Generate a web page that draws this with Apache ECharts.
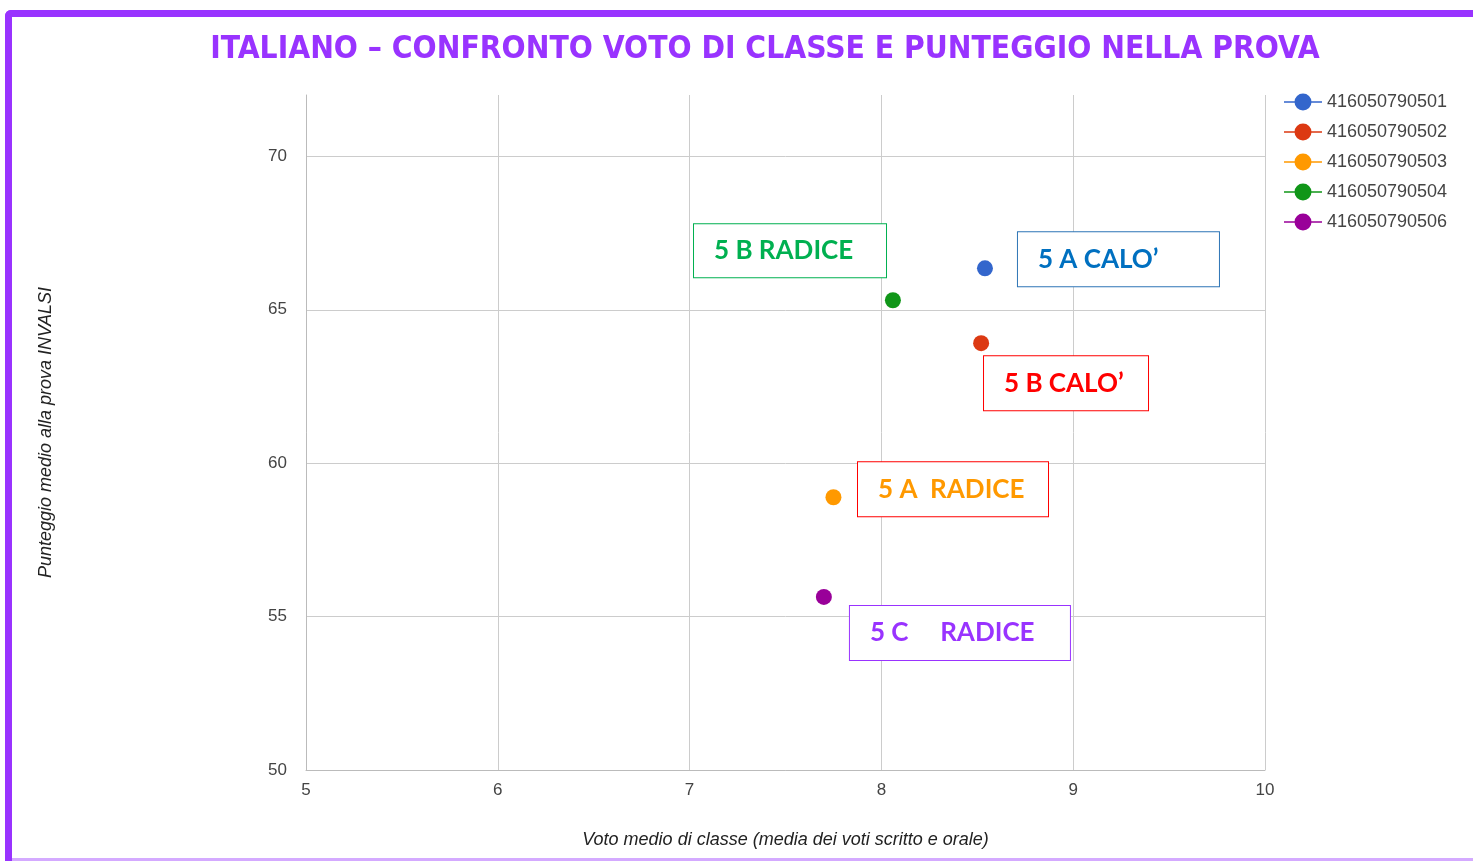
<!DOCTYPE html>
<html>
<head>
<meta charset="utf-8">
<script src="https://cdn.jsdelivr.net/npm/echarts@6/dist/echarts.min.js"></script>
<style>
html,body{margin:0;padding:0;background:#fff;}
#chart{width:1473px;height:861px;}
</style>
</head>
<body>
<div id="chart"></div>
<script>
// ---- data ----
const seriesNames = ['416050790501','416050790502','416050790503','416050790504','416050790506'];
const xValues = [8.54, 8.52, 7.75, 8.06, 7.70];   // Voto medio di classe
const yValues = [66.35, 63.91, 58.89, 65.31, 55.64]; // Punteggio medio INVALSI
const xTicks = [5, 6, 7, 8, 9, 10];
const yTicks = [50, 55, 60, 65, 70];
const annotationTexts = ['5 B RADICE', '5 A CALO’', '5 B CALO’', '5 A  RADICE', '5 C     RADICE'];
// anchor of each annotation box (left edge, vertical middle) in data units
const annotationX = [7.023, 8.712, 8.535, 7.878, 7.836];
const annotationY = [66.92, 66.645, 62.606, 59.153, 54.463];

// ---- styles ----
const seriesColors = ['#3366cc','#dc3912','#ff9900','#109618','#990099'];
const annStyle = [
  {color:'#00b050', border:'#00b050', w:192, h:53},
  {color:'#0070c0', border:'#2e75b6', w:201, h:54},
  {color:'#ff0000', border:'#ff0000', w:164, h:54},
  {color:'#ff9900', border:'#ff0000', w:190, h:54},
  {color:'#9933ff', border:'#9933ff', w:220, h:54}
];
const purple = '#9933ff';

const chart = echarts.init(document.getElementById('chart'), null, {renderer:'canvas'});

const series = seriesNames.map((n, i) => ({
  name: n,
  type: 'scatter',
  symbol: 'circle',
  symbolSize: 16,
  itemStyle: {color: seriesColors[i], opacity: 1},
  data: [[xValues[i], yValues[i]]],
  z: 3
}));

series.push({
  name: 'annotations',
  type: 'scatter',
  symbolSize: 0,
  silent: true,
  z: 5,
  itemStyle: {opacity: 1},
  data: annotationTexts.map((t, i) => ({
    value: [annotationX[i], annotationY[i]],
    label: {
      show: true,
      position: 'inside',
      formatter: t,
      color: annStyle[i].color,
      opacity: 1,
      fontFamily: 'Lato',
      fontWeight: 'bold',
      fontSize: 26,
      backgroundColor: '#fff',
      borderColor: annStyle[i].border,
      borderWidth: 1,
      width: annStyle[i].w - 20,
      height: annStyle[i].h - 4,
      lineHeight: annStyle[i].h - 4,
      padding: [4, 0, 0, 20],
      align: 'left',
      verticalAlign: 'middle'
    }
  }))
});

const iconPath = 'path://M0,7.75H38V9.25H0Z M10.5,8.5A8.5,8.5 0 1 1 27.5,8.5A8.5,8.5 0 1 1 10.5,8.5Z';

const option = {
  backgroundColor: '#fff',
  animation: false,
  title: {
    text: 'ITALIANO – CONFRONTO VOTO DI CLASSE E PUNTEGGIO NELLA PROVA',
    left: 760,
    textAlign: 'center',
    top: 29,
    textStyle: {
      color: purple,
      fontFamily: 'DejaVu Sans Condensed',
      fontWeight: 'bold',
      fontSize: 31.5
    }
  },
  legend: {
    orient: 'vertical',
    left: 1279,
    top: 88,
    itemWidth: 38,
    itemHeight: 17,
    itemGap: 12,
    data: seriesNames.map((n, i) => ({name: n, icon: iconPath})),
    textStyle: {color: '#444', fontFamily: 'Liberation Sans', fontSize: 18}
  },
  grid: {left: 306, right: 208, top: 95, bottom: 91, containLabel: false},
  xAxis: {
    type: 'value',
    min: xTicks[0],
    max: xTicks[xTicks.length - 1],
    interval: 1,
    name: 'Voto medio di classe (media dei voti scritto e orale)',
    nameLocation: 'middle',
    nameGap: 61,
    nameTextStyle: {fontStyle: 'italic', fontFamily: 'Liberation Sans', fontSize: 18, color: '#222'},
    axisLine: {show: true, lineStyle: {color: '#bbb'}},
    axisTick: {show: false},
    axisLabel: {color: '#444', fontFamily: 'Liberation Sans', fontSize: 17, margin: 12},
    splitLine: {show: true, lineStyle: {color: '#ccc'}}
  },
  yAxis: {
    type: 'value',
    min: yTicks[0],
    max: 72,
    interval: 5,
    name: 'Punteggio medio alla prova INVALSI',
    nameLocation: 'middle',
    nameGap: 251,
    nameTextStyle: {fontStyle: 'italic', fontFamily: 'Liberation Sans', fontSize: 18, color: '#222'},
    axisLine: {show: true, lineStyle: {color: '#bbb'}},
    axisTick: {show: false},
    axisLabel: {
      color: '#444', fontFamily: 'Liberation Sans', fontSize: 17, margin: 19,
      formatter: v => (yTicks.indexOf(v) >= 0 ? String(v) : '')
    },
    splitLine: {show: true, lineStyle: {color: ['#ccc','#ccc','#ccc','#ccc','#ccc','rgba(0,0,0,0)']}}
  },
  graphic: [
    {type: 'rect', left: 5, top: 10, z: 100, shape: {width: 1468, height: 7, r: [6, 0, 0, 0]}, style: {fill: purple}},
    {type: 'rect', left: 5, top: 10, z: 100, shape: {width: 7, height: 851, r: [6, 0, 0, 0]}, style: {fill: purple}},
    {type: 'rect', left: 12, top: 858, z: 100, shape: {width: 1461, height: 3}, style: {fill: '#d4aaff'}}
  ],
  series: series
};

chart.setOption(option);
</script>
</body>
</html>
